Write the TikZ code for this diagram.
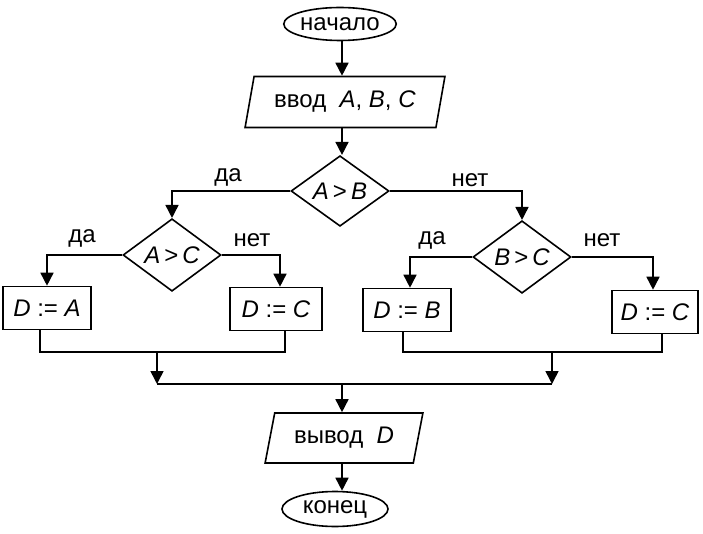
\documentclass[tikz,border=0pt]{standalone}
\usepackage{fontspec}
\setmainfont{Liberation Sans}
\usetikzlibrary{shapes.geometric,arrows.meta}
\begin{document}
\begin{tikzpicture}[x=1pt, y=-1pt, line width=1.6pt,
  every node/.style={font=\fontsize{24}{28}\selectfont, inner sep=0pt},
  term/.style={draw, ellipse, minimum width=112, minimum height=33},
  io/.style={draw, trapezium, trapezium left angle=72, trapezium right angle=108,
    trapezium stretches=true, minimum width=198, minimum height=51},
  cond/.style={draw, diamond, minimum width=98, minimum height=62},
  act/.style={draw, rectangle, minimum width=88, minimum height=43},
  arr/.style={-{Triangle[length=13pt, width=13pt]}}]
\useasboundingbox (0,0) rectangle (703,534);
\node[term] (start) at (340,24) {начало};
\node[io, minimum width=200] (in) at (345,102) {ввод~~\textit{A}, \textit{B}, \textit{C}};
\node[cond] (ab) at (340,191) {\textit{A}\,>\,\textit{B}};
\node[cond] (ac) at (172,255) {\textit{A}\,>\,\textit{C}};
\node[cond] (bc) at (522,257) {\textit{B}\,>\,\textit{C}};
\node[act] (da) at (47,308) {\textit{D}\;:=\;\textit{A}};
\node[act, minimum width=92] (dc1) at (276,309) {\textit{D}\;:=\;\textit{C}};
\node[act] (db) at (407,310) {\textit{D}\;:=\;\textit{B}};
\node[act, minimum width=86] (dc2) at (655,312) {\textit{D}\;:=\;\textit{C}};
\node[io, minimum width=158, minimum height=50] (out) at (344,438) {вывод~~\textit{D}};
\node[term, minimum width=106, minimum height=35] (end) at (335,509) {конец};
% branch labels
\node (yes1) at (228,177) {да};
\node (no1) at (470,180) {нет};
\node (yes2) at (82,238) {да};
\node (no2) at (252,240) {нет};
\node (yes3) at (432,240) {да};
\node (no3) at (602,240) {нет};
\coordinate (jl) at (157,352);
\coordinate (jr) at (552,352);
\coordinate (mid) at (342,384);
\draw[arr] (start.south -| mid) -- (in.north -| mid);
\draw[arr] (in.south -| mid) -- (ab.north -| mid);
\draw[arr] (ab.west) -| (ac.north);
\draw[arr] (ab.east) -| (bc.north);
\draw[arr] (ac.west) -| (da.north);
\draw[arr] (ac.east) -| ([xshift=4]dc1.north);
\draw[arr] (bc.west) -| ([xshift=3]db.north);
\draw[arr] (bc.east) -| ([xshift=-2]dc2.north);
\draw ([xshift=-7]da.south) |- (jl) -| ([xshift=9]dc1.south);
\draw ([xshift=-4]db.south) |- (jr) -| ([xshift=7]dc2.south);
\draw[arr] (jl) -- (jl |- mid);
\draw[arr] (jr) -- (jr |- mid);
\draw (jl |- mid) -- (jr |- mid);
\draw[arr] (mid) -- (out.north -| mid);
\draw[arr] (out.south -| mid) -- (end.north -| mid);
\end{tikzpicture}
\end{document}
